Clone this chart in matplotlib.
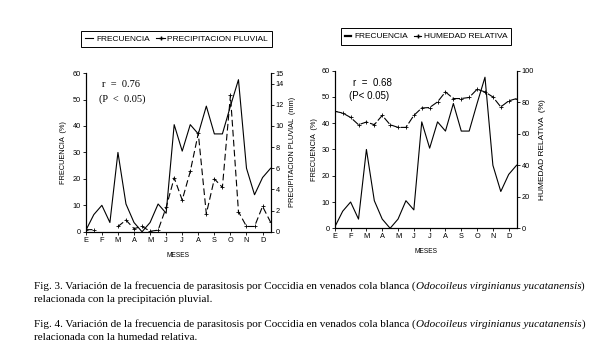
import numpy as np
import matplotlib
matplotlib.use("Agg")
import matplotlib.pyplot as plt

# two readings per month, E (enero) .. D (diciembre)
month_labels = ['E', 'F', 'M', 'A', 'M', 'J', 'J', 'A', 'S', 'O', 'N', 'D']
frecuencia = [0.5, 6.5, 10, 3.5, 30, 10.5, 3.5, 0, 3.5, 10.5, 7, 40.5,
              30.5, 40.5, 37, 47.5, 37, 37, 47.5, 57.5, 24, 14, 20.5, 24]
precipitacion = [0.2, 0.2, np.nan, np.nan, 0.5, 1.1, 0.3, 0.5, 0.05, 0.15, 2.3, 5.1,
                 3.0, 5.7, 9.3, 1.7, 5.0, 4.2, 12.9, 1.9, 0.5, 0.5, 2.4, 0.9]
humedad = [74.2, 73.1, 70.3, 65.7, 67.4, 65.7, 71.6, 65.7, 64, 64, 71.6, 76.3,
           76.6, 80.2, 86.5, 82.3, 82.3, 83, 88.2, 86.5, 83.3, 77, 80.8, 82.3]

caption3 = "Fig. 3. Variación de la frecuencia de parasitosis por Coccidia en venados cola blanca ("
caption4 = "Fig. 4. Variación de la frecuencia de parasitosis por Coccidia en venados cola blanca ("
especie = "Odocoileus virginianus yucatanensis"

x = np.arange(len(frecuencia))
sans = 'Liberation Sans'
serif = 'Liberation Serif'
fs = 5.3
lw = 0.8

fig = plt.figure(figsize=(6, 3.48), dpi=100)


def style(ax):
    ax.spines['top'].set_visible(False)
    for s in ax.spines.values():
        s.set_linewidth(0.8)
    ax.tick_params(labelsize=fs, length=2, width=0.6, pad=1.5)
    for t in ax.get_xticklabels() + ax.get_yticklabels():
        t.set_family(sans)


# ---- Fig. 3 ----
ax1 = fig.add_axes([0.143, 0.334, 0.308, 0.456])
ax1.plot(x, frecuencia, color='black', lw=lw)
ax1.set_xlim(0, 23)
ax1.set_ylim(0, 60)
ax1.set_yticks(range(0, 61, 10))
ax1.set_xticks(range(0, 24, 2))
ax1.set_xticklabels(month_labels)
ax1.set_ylabel('FRECUENCIA  (%)', fontsize=fs, family=sans, labelpad=4)
ax1.set_xlabel('MESES', fontsize=fs - 0.5, family=sans, labelpad=6)
style(ax1)
ax1b = ax1.twinx()
ax1b.plot(x, precipitacion, color='black', lw=lw, ls=(0, (6, 3)),
          marker='+', ms=3.5, mew=0.6)
ax1b.set_ylim(0, 15)
ax1b.set_yticks([0, 2, 4, 6, 8, 10, 12, 14, 15])
ax1b.set_ylabel('PRECIPITACION PLUVIAL  (mm)', fontsize=fs, family=sans, labelpad=4)
style(ax1b)
ax1.text(0.09, 0.91, 'r  =  0.76', transform=ax1.transAxes, family=serif, fontsize=7.5)
ax1.text(0.07, 0.82, '(P  <  0.05)', transform=ax1.transAxes, family=serif, fontsize=7.5)
h1 = [plt.Line2D([], [], color='black', lw=lw),
      plt.Line2D([], [], color='black', lw=lw, marker='+', ms=3.5)]
fig.legend(h1, ['FRECUENCIA', 'PRECIPITACION PLUVIAL'], loc='center',
           bbox_to_anchor=(176.5 / 600, 0.889), ncol=2, fancybox=False,
           edgecolor='black', framealpha=1, handlelength=1.0, handletextpad=0.3,
           columnspacing=0.8, borderpad=0.5,
           prop={'family': sans, 'size': 6}).get_frame().set_linewidth(0.7)

# ---- Fig. 4 ----
ax2 = fig.add_axes([0.558, 0.344, 0.303, 0.453])
ax2.plot(x, frecuencia, color='black', lw=lw)
ax2.set_xlim(0, 23)
ax2.set_ylim(0, 60)
ax2.set_yticks(range(0, 61, 10))
ax2.set_xticks(range(0, 24, 2))
ax2.set_xticklabels(month_labels)
ax2.set_ylabel('FRECUENCIA  (%)', fontsize=fs, family=sans, labelpad=3)
ax2.set_xlabel('MESES', fontsize=fs - 0.5, family=sans, labelpad=6)
style(ax2)
ax2b = ax2.twinx()
ax2b.plot(x, humedad, color='black', lw=lw, ls=(0, (7, 2)),
          marker='+', ms=3.5, mew=0.6)
ax2b.set_ylim(0, 100)
ax2b.set_yticks(range(0, 101, 20))
ax2b.set_ylabel('HUMEDAD RELATIVA  (%)', fontsize=fs + 0.7, family=sans, labelpad=4)
style(ax2b)
ax2.text(0.1, 0.9, 'r  =  0.68', transform=ax2.transAxes, family=sans, fontsize=7)
ax2.text(0.08, 0.82, '(P< 0.05)', transform=ax2.transAxes, family=sans, fontsize=7)
h2 = [plt.Line2D([], [], color='black', lw=1.6),
      plt.Line2D([], [], color='black', lw=lw, marker='+', ms=3.5)]
fig.legend(h2, ['FRECUENCIA', 'HUMEDAD RELATIVA'], loc='center',
           bbox_to_anchor=(426 / 600, 0.895), ncol=2, fancybox=False,
           edgecolor='black', framealpha=1, handlelength=0.8, handletextpad=0.3,
           columnspacing=0.8, borderpad=0.5,
           prop={'family': sans, 'size': 6}).get_frame().set_linewidth(0.7)


# ---- captions ----
def caption(y, start, end):
    cs = 8.0
    t1 = fig.text(34 / 600, y, start, family=serif, fontsize=cs, va='bottom')
    a2 = plt.annotate(especie, xy=(1, 0), xycoords=t1, family=serif, style='italic',
                      fontsize=cs, va='bottom', ha='left', annotation_clip=False)
    plt.annotate(')', xy=(1, 0), xycoords=a2, family=serif, fontsize=cs,
                 va='bottom', ha='left', annotation_clip=False)
    fig.text(34 / 600, y - 12.5 / 348, end, family=serif, fontsize=cs, va='bottom')


caption(1 - 291 / 348, caption3, 'relacionada con la precipitación pluvial.')
caption(1 - 329 / 348, caption4, 'relacionada con la humedad relativa.')

fig.savefig('out.png', dpi=100)
